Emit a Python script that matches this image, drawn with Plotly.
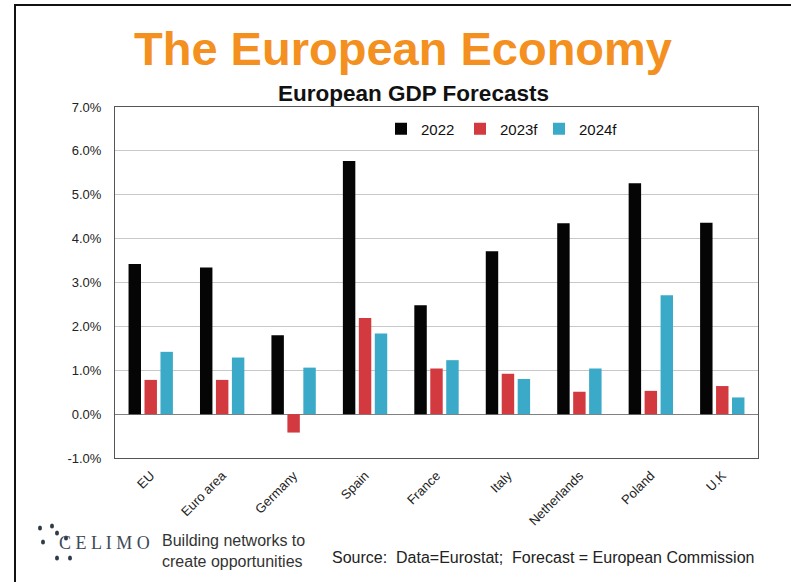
import plotly.graph_objects as go

# GDP growth, % per year
countries = ["EU", "Euro area", "Germany", "Spain", "France", "Italy",
             "Netherlands", "Poland", "U.K"]
gdp_2022 = [3.42, 3.34, 1.80, 5.77, 2.48, 3.71, 4.35, 5.26, 4.36]
gdp_2023f = [0.78, 0.78, -0.42, 2.19, 1.04, 0.92, 0.51, 0.53, 0.64]
gdp_2024f = [1.42, 1.29, 1.06, 1.84, 1.23, 0.80, 1.04, 2.71, 0.38]

series_names = ["2022", "2023f", "2024f"]
series_colors = ["#050505", "#D23A3F", "#3AAAC8"]

y_tick_values = [-1, 0, 1, 2, 3, 4, 5, 6, 7]
y_tick_labels = ["-1.0%", "0.0%", "1.0%", "2.0%", "3.0%", "4.0%", "5.0%", "6.0%", "7.0%"]

W, H = 791, 582
L, R, T, B = 115, 758, 107, 458  # plot box in pixels


def px(x):
    return (x - L) / (R - L)


def py(y):
    return (B - y) / (B - T)


fig = go.Figure()
for name, vals, col in zip(series_names, [gdp_2022, gdp_2023f, gdp_2024f], series_colors):
    fig.add_trace(go.Bar(name=name, x=countries, y=vals, marker_color=col,
                         marker_line_width=0))

FONT = "Liberation Sans, Arial, sans-serif"

fig.update_layout(
    width=W, height=H,
    margin=dict(l=L, r=W - R, t=T, b=H - B),
    paper_bgcolor="white", plot_bgcolor="white",
    barmode="group", bargap=0.33, bargroupgap=0.22,
    font=dict(family=FONT, color="#111"),
    showlegend=True,
    legend=dict(orientation="h", x=px(381), y=py(129), xanchor="left", yanchor="middle",
                font=dict(size=15, color="#111"), itemwidth=30,
                bgcolor="rgba(0,0,0,0)", traceorder="normal",
                entrywidth=34, entrywidthmode="pixels"),
)

fig.update_yaxes(range=[-1, 7], tickmode="array", tickvals=y_tick_values, ticktext=y_tick_labels,
                 showgrid=True, gridcolor="#C8C8C8", gridwidth=1,
                 zeroline=True, zerolinecolor="#808080", zerolinewidth=1,
                 showline=True, linecolor="#555", linewidth=1, mirror=True,
                 ticks="", ticklabelstandoff=10, tickfont=dict(size=13, color="#222"))
fig.update_xaxes(showline=True, linecolor="#555", linewidth=1, mirror=True,
                 tickangle=-45, ticks="", ticklabelstandoff=4,
                 tickfont=dict(size=13, color="#222"))

annotations = [
    dict(text="<b>The European Economy</b>", x=px(403), y=py(48),
         font=dict(size=47, color="#F39020", family=FONT)),
    dict(text="<b>European GDP Forecasts</b>", x=px(413), y=py(93),
         font=dict(size=22.5, color="#111", family=FONT)),
    dict(text="C E L I M O", x=px(57), y=py(543), xanchor="left",
         font=dict(size=18, color="#3d4a58", family="Liberation Serif, serif")),
    dict(text="Building networks to<br>create opportunities", x=px(160), y=py(551),
         xanchor="left", align="left",
         font=dict(size=16, color="#333", family=FONT)),
    dict(text="Source:  Data=Eurostat;  Forecast = European Commission", x=px(756), y=py(557),
         xanchor="right", font=dict(size=16, color="#222", family=FONT)),
]
for a in annotations:
    a.update(xref="paper", yref="paper", showarrow=False)
    a.setdefault("xanchor", "center")
    a.setdefault("yanchor", "middle")
    fig.add_annotation(**a)

# page frame (left and top edges)
fig.add_shape(type="path", xref="paper", yref="paper",
              path=f"M {px(15)} {py(582)} L {px(15)} {py(5)} L {px(791)} {py(5)}",
              line=dict(color="#111", width=2))

# logo dots
for cx, cy in [(40, 528), (52, 526), (57, 533), (43, 542), (57, 558), (70, 558), (66, 538)]:
    fig.add_shape(type="circle", xref="paper", yref="paper",
                  x0=px(cx - 2), x1=px(cx + 2), y0=py(cy + 2.5), y1=py(cy - 2.5),
                  fillcolor="#2f3b46", line_width=0)

fig.write_html("out.html")
